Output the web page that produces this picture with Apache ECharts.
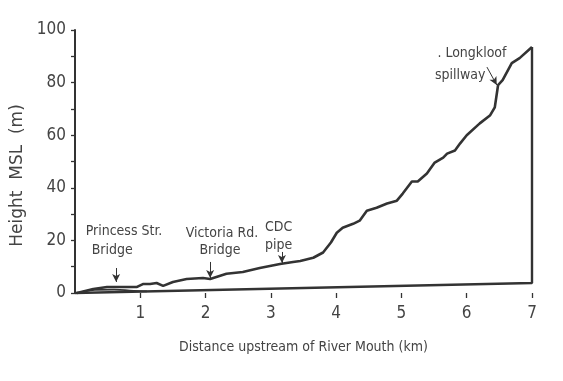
<!DOCTYPE html>
<html><head><meta charset="utf-8">
<script src="https://cdn.jsdelivr.net/npm/echarts@6/dist/echarts.min.js"></script>
<style>html,body{margin:0;padding:0;background:#fff}#c{width:563px;height:381px}</style>
</head><body><div id="c"></div>
<script>
var distanceKm = [0.03,0.28,0.49,0.64,0.95,1.04,1.15,1.25,1.35,1.5,1.71,1.96,2.07,2.32,2.57,2.83,3.14,3.34,3.45,3.65,3.8,3.92,4.01,4.1,4.26,4.36,4.47,4.62,4.78,4.93,5.02,5.16,5.25,5.39,5.51,5.64,5.7,5.82,5.9,6.0,6.2,6.36,6.43,6.48,6.55,6.69,6.81,7.0];
var heightM = [0,1.5,2.3,2.3,2.3,3.4,3.4,3.8,2.7,4.2,5.3,5.7,5.3,7.3,8,9.5,11,11.8,12.2,13.4,15.4,19.2,22.9,24.8,26.3,27.5,31.3,32.4,34,35.1,37.8,42.4,42.4,45.4,49.6,51.5,53,54.2,56.9,60,64.5,67.6,70.6,79,80.9,87.4,89.3,93.5];
var baseKm = [0, 7, 7];
var baseM = [0, 3.8, 93.5];
var lowerKm = [0.1, 0.3, 0.6, 0.9, 1.1];
var lowerM = [0.3, 1.2, 1.3, 0.8, 0.6];
var xTicks = [1,2,3,4,5,6,7];
var yTicks = [0,20,40,60,80,100];
var labelText = ['Princess Str.','Bridge','Victoria Rd.','Bridge','CDC','pipe','. Longkloof','spillway'];
var labelKm = [0.75,0.57,2.25,2.22,3.12,3.12,6.08,5.9];
var labelM = [23.6,16.3,22.8,16.3,25.1,18.3,91.3,82.9];
var arrowFromKm = [0.63,2.07,3.17,6.31];
var arrowFromM = [9.5,11.8,15.6,85.9];
var arrowToKm = [0.63,2.07,3.17,6.46];
var arrowToM = [4.2,5.7,11.4,79.1];

var ink = '#333';
var textInk = '#444';
var font = '"Liberation Sans Narrow","DejaVu Sans Condensed","Liberation Sans",sans-serif';
var chart = echarts.init(document.getElementById('c'));
var profile = distanceKm.map(function(k,i){return [k,heightM[i]];});
var base = baseKm.map(function(k,i){return [k,baseM[i]];});
var lower = lowerKm.map(function(k,i){return [k,lowerM[i]];});
var arrows = arrowFromKm.map(function(k,i){return [{coord:[k,arrowFromM[i]]},{coord:[arrowToKm[i],arrowToM[i]]}];});
chart.setOption({
  animation:false,
  grid:{left:75,right:31,top:30,bottom:88},
  xAxis:{type:'value',min:0,max:7,interval:1,
    name:'Distance upstream of River Mouth (km)',nameLocation:'middle',nameGap:47,
    nameTextStyle:{color:textInk,fontFamily:font,fontSize:14},
    axisLine:{show:false},
    axisTick:{show:true,length:5,customValues:xTicks,lineStyle:{color:ink,width:1.3}},
    axisLabel:{color:textInk,fontFamily:font,fontSize:17,margin:12,customValues:xTicks},
    splitLine:{show:false}},
  yAxis:{type:'value',min:0,max:100,interval:20,
    name:'Height  MSL  (m)',nameLocation:'middle',nameGap:38,nameRotate:90,
    nameTextStyle:{color:textInk,fontFamily:'"DejaVu Sans",sans-serif',fontSize:17,padding:[0,28,0,0]},
    axisLine:{show:true,lineStyle:{color:ink,width:2}},
    axisTick:{show:true,length:4,lineStyle:{color:ink,width:1.3}},
    minorTick:{show:true,splitNumber:2,length:4,lineStyle:{color:ink,width:1.3}},
    axisLabel:{color:textInk,fontFamily:font,fontSize:17,margin:9,customValues:yTicks},
    splitLine:{show:false}},
  series:[
    {type:'line',data:profile,showSymbol:false,symbol:'none',clip:false,
      lineStyle:{color:ink,width:2.6},
      markLine:{silent:true,symbol:['none','arrow'],symbolSize:[6,8],label:{show:false},
        lineStyle:{color:ink,width:1,type:'solid'},data:arrows}},
    {type:'line',data:base,showSymbol:false,symbol:'none',clip:false,
      lineStyle:{color:ink,width:2.4}},
    {type:'line',data:lower,showSymbol:false,symbol:'none',clip:false,smooth:true,
      lineStyle:{color:ink,width:1.8}}
  ]
});
var g = labelText.map(function(t,i){
  var p = chart.convertToPixel({gridIndex:0},[labelKm[i],labelM[i]]);
  return {type:'text',x:p[0],y:p[1],style:{text:t,fill:textInk,font:'14px '+font,align:'center',verticalAlign:'middle'}};
});
chart.setOption({graphic:g});
</script></body></html>
